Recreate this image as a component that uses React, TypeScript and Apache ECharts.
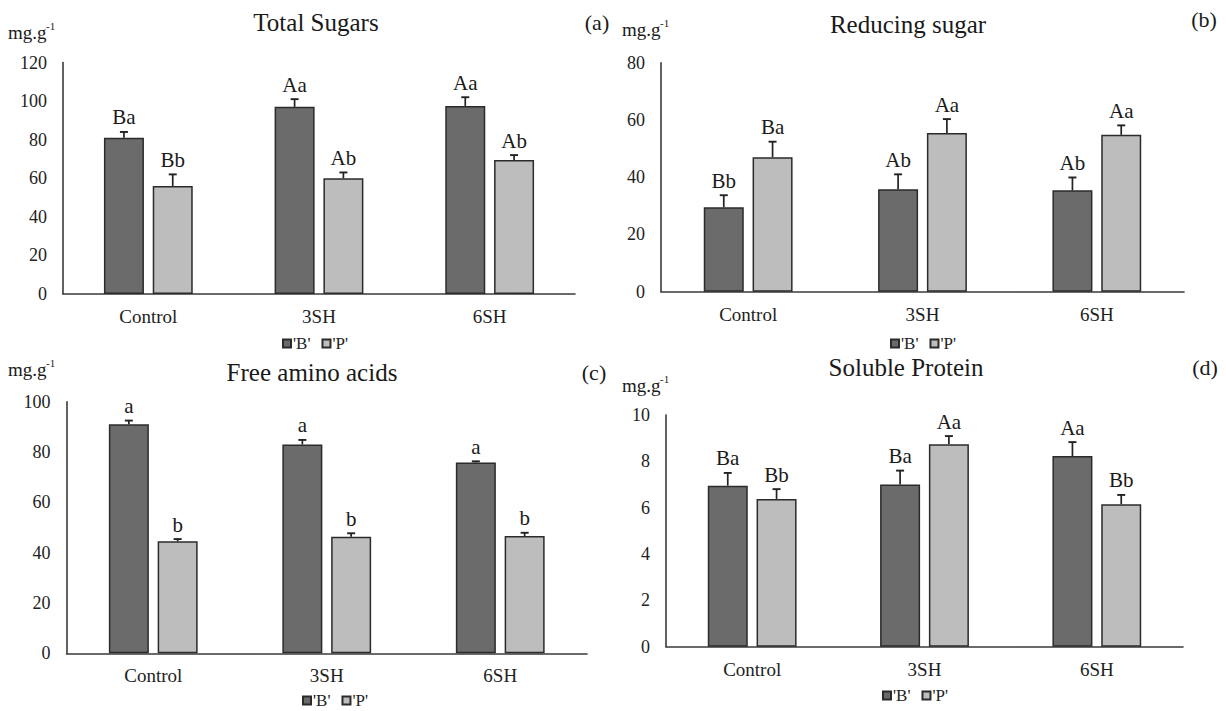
import React, { useEffect, useRef } from "react";
import * as echarts from "echarts";

const categories = ["Control", "3SH", "6SH"];
const seriesNames = ["'B'", "'P'"];

// (a) Total Sugars
const totalSugarsB = [81, 97, 97.5];
const totalSugarsBErr = [3, 4, 4.5];
const totalSugarsP = [56, 60, 69.5];
const totalSugarsPErr = [6, 3, 2.5];
const totalSugarsBLetters = ["Ba", "Aa", "Aa"];
const totalSugarsPLetters = ["Bb", "Ab", "Ab"];

// (b) Reducing sugar
const reducingB = [29.5, 35.8, 35.4];
const reducingBErr = [4.2, 5.2, 4.5];
const reducingP = [47, 55.4, 54.8];
const reducingPErr = [5.4, 4.9, 3.3];
const reducingBLetters = ["Bb", "Ab", "Ab"];
const reducingPLetters = ["Ba", "Aa", "Aa"];

// (c) Free amino acids
const aminoB = [91, 83, 75.8];
const aminoBErr = [1.5, 1.8, 0.5];
const aminoP = [44.5, 46.3, 46.6];
const aminoPErr = [0.9, 1.4, 1.3];
const aminoBLetters = ["a", "a", "a"];
const aminoPLetters = ["b", "b", "b"];

// (d) Soluble Protein
const proteinB = [6.95, 7.0, 8.23];
const proteinBErr = [0.55, 0.6, 0.6];
const proteinP = [6.38, 8.74, 6.15];
const proteinPErr = [0.42, 0.35, 0.4];
const proteinBLetters = ["Ba", "Ba", "Aa"];
const proteinPLetters = ["Bb", "Aa", "Bb"];

const FONT = "Liberation Serif";
const DARK = "#6b6b6b";
const LIGHT = "#bdbdbd";
const EDGE = "#2b2b2b";

const panels = [
  {
    title: "Total Sugars", tag: "(a)", max: 120, interval: 20,
    B: totalSugarsB, BErr: totalSugarsBErr, BL: totalSugarsBLetters,
    P: totalSugarsP, PErr: totalSugarsPErr, PL: totalSugarsPLetters,
    grid: { left: 63, top: 62.5, width: 512, height: 231.5 },
    titlePos: [316, 22], tagPos: [597, 22], unitPos: [8, 32], legendPos: [282, 335],
  },
  {
    title: "Reducing sugar", tag: "(b)", max: 80, interval: 20,
    B: reducingB, BErr: reducingBErr, BL: reducingBLetters,
    P: reducingP, PErr: reducingPErr, PL: reducingPLetters,
    grid: { left: 661, top: 62.7, width: 523, height: 229 },
    titlePos: [908, 24], tagPos: [1204, 19], unitPos: [622, 29], legendPos: [890, 335],
  },
  {
    title: "Free amino acids", tag: "(c)", max: 100, interval: 20,
    B: aminoB, BErr: aminoBErr, BL: aminoBLetters,
    P: aminoP, PErr: aminoPErr, PL: aminoPLetters,
    grid: { left: 66.5, top: 401.7, width: 520.5, height: 251.6 },
    titlePos: [312, 372], tagPos: [594, 372], unitPos: [8, 369], legendPos: [302, 692],
  },
  {
    title: "Soluble Protein", tag: "(d)", max: 10, interval: 2,
    B: proteinB, BErr: proteinBErr, BL: proteinBLetters,
    P: proteinP, PErr: proteinPErr, PL: proteinPLetters,
    grid: { left: 666, top: 415, width: 517, height: 231.7 },
    titlePos: [906, 367], tagPos: [1205, 367], unitPos: [622, 385], legendPos: [882, 687],
  },
];

const BAR_W = 40;
const BAR_GAP = 0.22;

function errorSeries(gi: number, values: number[], errs: number[], letters: string[], side: number) {
  const offset = side * (BAR_W + BAR_W * BAR_GAP) / 2;
  return {
    type: "custom",
    name: "err" + gi + "_" + side,
    xAxisIndex: gi,
    yAxisIndex: gi,
    z: 5,
    silent: true,
    data: values.map((v, i) => [i, v, errs[i]]),
    encode: { x: 0, y: 1 },
    renderItem: (params: any, api: any) => {
      const idx = api.value(0);
      const v = api.value(1);
      const e = api.value(2);
      const p0 = api.coord([idx, v]);
      const p1 = api.coord([idx, v + e]);
      const x = p0[0] + offset;
      return {
        type: "group",
        children: [
          { type: "line", shape: { x1: x, y1: p0[1], x2: x, y2: p1[1] }, style: { stroke: "#222", lineWidth: 1.7 } },
          { type: "line", shape: { x1: x - 4, y1: p1[1], x2: x + 4, y2: p1[1] }, style: { stroke: "#222", lineWidth: 1.9 } },
          {
            type: "text",
            x: x,
            y: p1[1] - 4,
            style: {
              text: letters[params.dataIndex],
              fill: "#1a1a1a",
              fontFamily: FONT,
              fontSize: 21,
              align: "center",
              verticalAlign: "bottom",
            },
          },
        ],
      };
    },
  };
}

function txt(x: number, y: number, text: string, size: number, align: string) {
  return {
    type: "text",
    x,
    y,
    style: { text, fontFamily: FONT, fontSize: size, fill: "#1a1a1a", align, verticalAlign: "middle" },
  };
}

export default function App() {
  const ref = useRef<HTMLDivElement>(null);
  useEffect(() => {
    if (!ref.current) return;
    const chart = echarts.init(ref.current, null, { renderer: "svg" });
    const grid: any[] = [];
    const xAxis: any[] = [];
    const yAxis: any[] = [];
    const series: any[] = [];
    const legend: any[] = [];
    const graphic: any[] = [];
    panels.forEach((p, gi) => {
      grid.push({ ...p.grid, containLabel: false });
      xAxis.push({
        type: "category",
        gridIndex: gi,
        data: categories,
        axisTick: { show: false },
        axisLine: { lineStyle: { color: "#3a3a3a", width: 1.6 } },
        axisLabel: { color: "#222", fontFamily: FONT, fontSize: 19, margin: 13 },
      });
      yAxis.push({
        type: "value",
        gridIndex: gi,
        min: 0,
        max: p.max,
        interval: p.interval,
        splitLine: { show: false },
        axisTick: { show: false },
        axisLine: { show: true, lineStyle: { color: "#3a3a3a", width: 1.6 } },
        axisLabel: { color: "#222", fontFamily: FONT, fontSize: 18, margin: 16 },
      });
      series.push({
        type: "bar",
        name: seriesNames[0],
        xAxisIndex: gi,
        yAxisIndex: gi,
        data: p.B,
        barWidth: BAR_W,
        barGap: BAR_GAP * 100 + "%",
        itemStyle: { color: DARK, borderColor: EDGE, borderWidth: 1.5 },
      });
      series.push({
        type: "bar",
        name: seriesNames[1],
        xAxisIndex: gi,
        yAxisIndex: gi,
        data: p.P,
        barWidth: BAR_W,
        barGap: BAR_GAP * 100 + "%",
        itemStyle: { color: LIGHT, borderColor: EDGE, borderWidth: 1.5 },
      });
      series.push(errorSeries(gi, p.B, p.BErr, p.BL, -1));
      series.push(errorSeries(gi, p.P, p.PErr, p.PL, 1));
      legend.push({
        data: seriesNames.map((n) => ({ name: n, icon: "rect" })),
        left: p.legendPos[0],
        top: p.legendPos[1],
        orient: "horizontal",
        itemWidth: 8,
        itemHeight: 8,
        itemGap: 11,
        padding: 0,
        selectedMode: false,
        textStyle: { fontFamily: FONT, fontSize: 17, color: "#222", padding: [0, 0, 0, -3] },
      });
      graphic.push(txt(p.titlePos[0], p.titlePos[1], p.title, 25, "center"));
      graphic.push(txt(p.tagPos[0], p.tagPos[1], p.tag, 22, "center"));
      graphic.push(txt(p.unitPos[0], p.unitPos[1], "mg.g", 19, "left"));
      graphic.push(txt(p.unitPos[0] + 38, p.unitPos[1] - 6, "-1", 11, "left"));
    });
    chart.setOption({
      animation: false,
      backgroundColor: "#ffffff",
      textStyle: { fontFamily: FONT },
      grid,
      xAxis,
      yAxis,
      series,
      legend,
      graphic,
    });
    return () => chart.dispose();
  }, []);
  return (
    <div
      ref={ref}
      style={{ position: "fixed", left: 0, top: 0, width: 1226, height: 711, background: "#fff" }}
    />
  );
}
